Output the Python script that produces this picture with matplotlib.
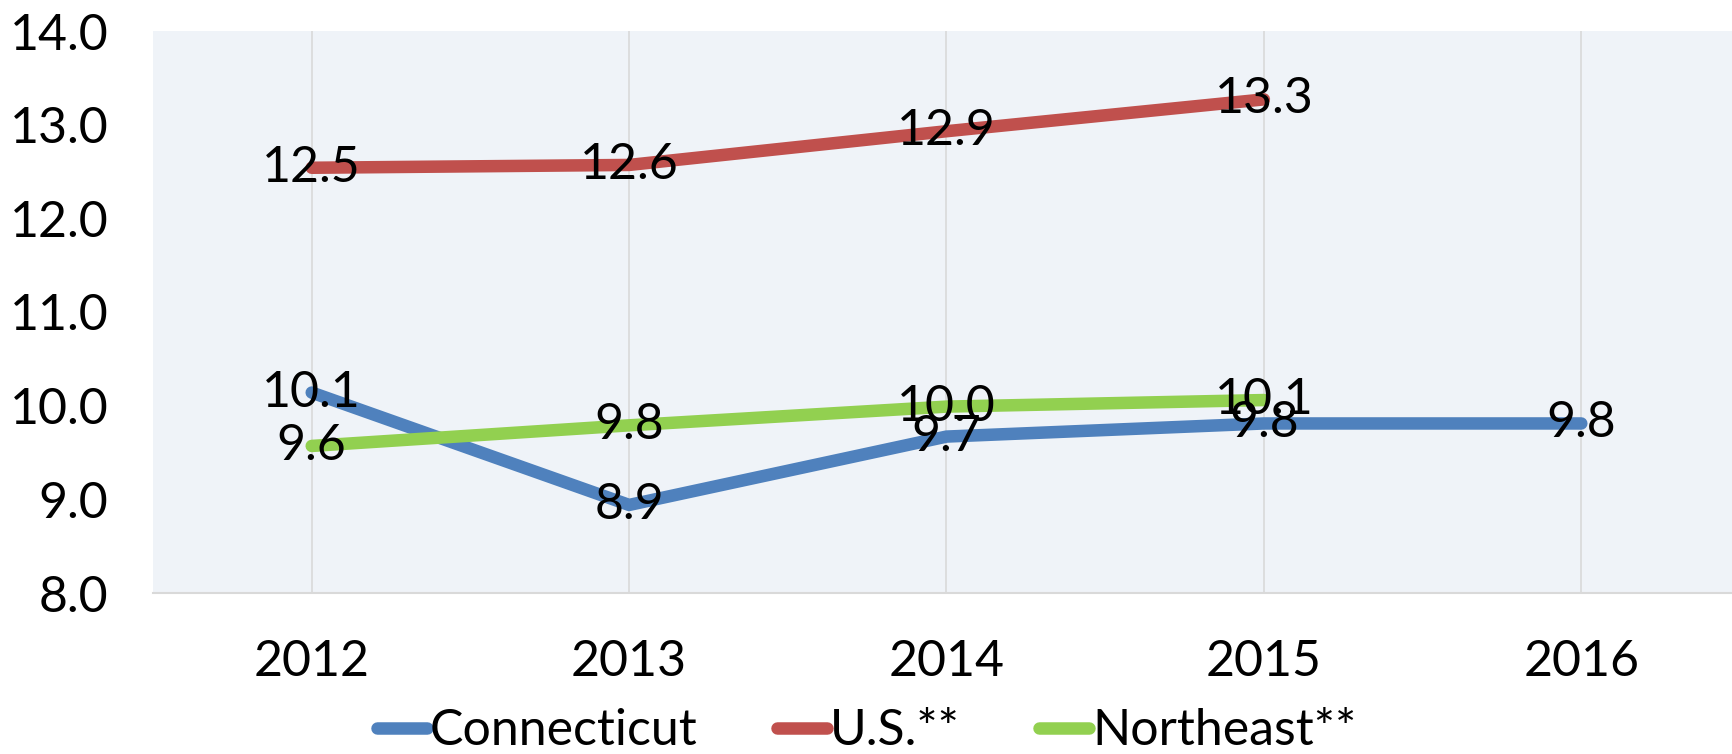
import matplotlib
matplotlib.use("Agg")
import matplotlib.pyplot as plt

years = ["2012", "2013", "2014", "2015", "2016"]
connecticut = [10.14, 8.94, 9.67, 9.81, 9.81]
us = [12.54, 12.57, 12.93, 13.27]
northeast = [9.57, 9.79, 9.99, 10.06]
yticks = [8.0, 9.0, 10.0, 11.0, 12.0, 13.0, 14.0]

plt.rcParams['font.family'] = ['Lato', 'DejaVu Sans']
FS = 36

fig = plt.figure(figsize=(17.33, 7.54), dpi=100)
ax = fig.add_axes([153/1733, 1-593/754, (1740-153)/1733, (593-31)/754])
ax.set_facecolor('#EFF3F8')

x = list(range(len(years)))
series = [
    ("Connecticut", connecticut, '#4F81BD'),
    ("U.S.**", us, '#C0504D'),
    ("Northeast**", northeast, '#92D050'),
]
for name, vals, col in series:
    xs = x[:len(vals)]
    ax.plot(xs, vals, color=col, lw=9, solid_capstyle='round', label=name, zorder=3)
for name, vals, col in series:
    for xi, v in zip(x, vals):
        ax.text(xi, v, f"{v:.1f}", ha='center', va='center', fontsize=FS, color='black', zorder=4)

ax.set_xlim(-0.5, 4.5)
ax.set_ylim(8, 14)
ax.set_xticks(x)
ax.set_xticklabels(years, fontsize=FS)
ax.set_yticks(yticks)
ax.set_yticklabels([f"{t:.1f}" for t in yticks], fontsize=FS)
ax.tick_params(axis='both', length=0)
ax.tick_params(axis='x', pad=33)
ax.tick_params(axis='y', pad=32)
ax.grid(axis='x', color='#D9D9D9', lw=1.2)
ax.grid(axis='y', visible=False)
ax.set_axisbelow(True)
for s in ['top', 'right', 'left']:
    ax.spines[s].set_visible(False)
ax.spines['bottom'].set_color('#D9D9D9')
ax.spines['bottom'].set_linewidth(1.5)

leg = fig.legend(loc='center', bbox_to_anchor=(0.5, 1-731/754), ncol=3, frameon=False,
                 fontsize=FS, handlelength=1.0, handletextpad=0.05, columnspacing=1.6)

fig.savefig("out.png", dpi=100)
